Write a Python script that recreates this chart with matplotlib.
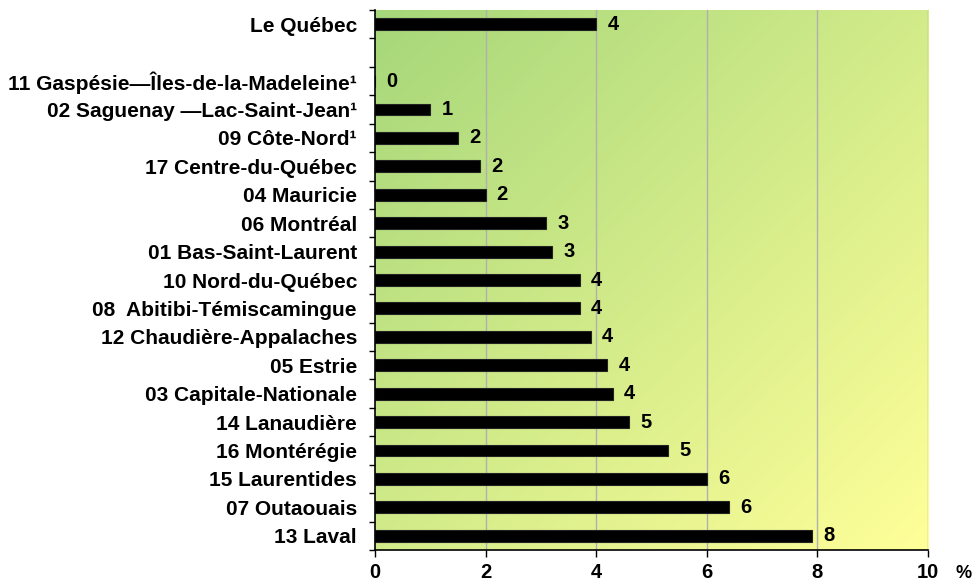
import numpy as np
import matplotlib.pyplot as plt
from matplotlib.colors import LinearSegmentedColormap

plt.rcParams['font.family'] = ['Liberation Sans', 'DejaVu Sans']

regions = ["Le Québec", "",
           "11 Gaspésie—Îles-de-la-Madeleine¹", "02 Saguenay —Lac-Saint-Jean¹",
           "09 Côte-Nord¹", "17 Centre-du-Québec", "04 Mauricie", "06 Montréal",
           "01 Bas-Saint-Laurent", "10 Nord-du-Québec", "08  Abitibi-Témiscamingue",
           "12 Chaudière-Appalaches", "05 Estrie", "03 Capitale-Nationale",
           "14 Lanaudière", "16 Montérégie", "15 Laurentides", "07 Outaouais",
           "13 Laval"]
values = [4.0, None,
          0.0, 1.0, 1.5, 1.9, 2.0, 3.1, 3.2, 3.7, 3.7,
          3.9, 4.2, 4.3, 4.6, 5.3, 6.0, 6.4, 7.9]
xticks = [0, 2, 4, 6, 8, 10]

fig = plt.figure(figsize=(9.72, 5.82), dpi=100)
ax = fig.add_axes([375 / 972, 1 - 550 / 582, (928 - 375) / 972, 540 / 582])

n = len(regions)
ypos = np.arange(n)

# diagonal gradient background: green top-left -> yellow bottom-right
cmap = LinearSegmentedColormap.from_list('bg', ['#a6d77a', '#ffff99'])
gx, gy = np.meshgrid(np.linspace(0, 1, 200), np.linspace(0, 1, 200))
grad = (gx + (1 - gy)) / 2
ax.imshow(grad, cmap=cmap, extent=[0, 1, 0, 1], origin='lower',
          transform=ax.transAxes, aspect='auto', zorder=0,
          interpolation='bicubic')

for x in xticks[1:]:
    ax.axvline(x, color='#b0b0b0', lw=1, zorder=1)

for y, v in zip(ypos, values):
    if v is None:
        continue
    ax.barh(y, v, height=0.42, color='black', edgecolor='#222222', lw=0.8,
            zorder=2)
    ax.text(v + 0.2, y, f"{v:.0f}", va='center', ha='left',
            fontsize=14.5, fontweight='bold', zorder=3)

ax.set_xlim(0, 10)
ax.set_ylim(n - 0.5, -0.5)
ax.set_xticks(xticks)
ax.set_xticklabels([str(x) for x in xticks], fontsize=14.5, fontweight='bold')
ax.set_yticks(ypos)
ax.set_yticklabels(regions, fontsize=15, fontweight='bold')
ax.tick_params(axis='y', length=0, pad=13)
ax.set_yticks(np.arange(n + 1) - 0.5, minor=True)
ax.tick_params(axis='y', which='minor', length=4, width=1, direction='out')
ax.tick_params(axis='x', length=5, width=1, direction='out', pad=4)

for s in ['top', 'right']:
    ax.spines[s].set_visible(False)
ax.spines['left'].set_linewidth(1.2)
ax.spines['bottom'].set_linewidth(1.2)

fig.text(955 / 972, 1 - 574 / 582, "%", fontsize=13, fontweight='bold',
         ha='left', va='center')

fig.savefig('out.png', dpi=100, facecolor='white')
